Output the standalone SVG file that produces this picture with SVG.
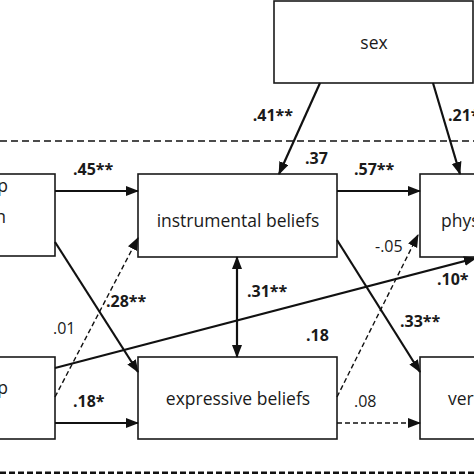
<svg xmlns="http://www.w3.org/2000/svg" width="474" height="474" viewBox="0 0 474 474">
<style>
.box{fill:#fff;stroke:#1a1a1a;stroke-width:1.6}
.t{font-family:"Open Sans","Liberation Sans",sans-serif;font-size:17.5px;fill:#1a1a1a}
.lb{font-family:"Open Sans","Liberation Sans",sans-serif;font-size:16px;font-weight:bold;fill:#1a1a1a}
.lr{font-family:"Open Sans","Liberation Sans",sans-serif;font-size:16px;fill:#1a1a1a}
.c{stroke:#111;stroke-width:2.2;fill:none}
.d{stroke:#111;stroke-width:1.4;fill:none;stroke-dasharray:5,3}
.sep{stroke:#111;stroke-width:1.6;stroke-dasharray:7,4}
.sep2{stroke:#111;stroke-width:3;stroke-dasharray:6,3}
</style>
<defs>
<marker id="ah" markerUnits="userSpaceOnUse" markerWidth="14" markerHeight="12" refX="12" refY="5" orient="auto">
<path d="M0,0 L13,5 L0,10 z" fill="#111"/>
</marker>
<marker id="ahs" markerUnits="userSpaceOnUse" markerWidth="14" markerHeight="12" refX="1" refY="5" orient="auto">
<path d="M13,0 L0,5 L13,10 z" fill="#111"/>
</marker>
</defs>
<rect width="474" height="474" fill="#fff"/>
<line class="sep" x1="0" y1="141" x2="474" y2="141"/>
<line class="sep2" x1="0" y1="473" x2="474" y2="473"/>
<g id="sex"><rect class="box" x="274" y="1" width="199" height="82"/><text class="t" x="374" y="49" text-anchor="middle">sex</text></g>
<g id="left-top"><rect class="box" x="-10" y="174" width="65" height="82"/><text class="t" x="8" y="192" text-anchor="end">p</text><text class="t" x="6" y="223" text-anchor="end">n</text></g>
<g id="left-bottom"><rect class="box" x="-10" y="357" width="65" height="82"/><text class="t" x="8" y="394" text-anchor="end">p</text></g>
<g id="instrumental"><rect class="box" x="138" y="174" width="199" height="83"/><text class="t" x="238" y="227" text-anchor="middle">instrumental beliefs</text></g>
<g id="expressive"><rect class="box" x="138" y="357" width="199" height="82"/><text class="t" x="238" y="405" text-anchor="middle">expressive beliefs</text></g>
<g id="physical"><rect class="box" x="420" y="174" width="70" height="83"/><text class="t" x="441" y="227">phys</text></g>
<g id="verbal"><rect class="box" x="420" y="357" width="70" height="82"/><text class="t" x="448" y="405">ver</text></g>
<g id="connectors">
<line class="c" x1="320" y1="83" x2="279" y2="174" marker-end="url(#ah)"/>
<line class="c" x1="433" y1="83" x2="460" y2="174" marker-end="url(#ah)"/>
<line class="c" x1="55" y1="191" x2="138" y2="191" marker-end="url(#ah)"/>
<line class="c" x1="337" y1="191" x2="420" y2="191" marker-end="url(#ah)"/>
<line class="c" x1="55" y1="423" x2="138" y2="423" marker-end="url(#ah)"/>
<line class="d" x1="337" y1="423" x2="420" y2="423" marker-end="url(#ah)"/>
<line class="c" x1="237" y1="257" x2="237" y2="357" marker-start="url(#ahs)" marker-end="url(#ah)"/>
<line class="c" x1="55" y1="242" x2="138" y2="372" marker-end="url(#ah)"/>
<line class="d" x1="55" y1="397" x2="138" y2="238" marker-end="url(#ah)"/>
<line class="c" x1="55" y1="368" x2="476" y2="258" marker-end="url(#ah)"/>
<line class="c" x1="337" y1="240" x2="420" y2="372" marker-end="url(#ah)"/>
<line class="d" x1="337" y1="397" x2="418" y2="235" marker-end="url(#ah)"/>
</g>
<g id="labels">
<text class="lb" x="293" y="121" text-anchor="end">.41**</text>
<text class="lb" x="448" y="121">.21*</text>
<text class="lb" x="305" y="164">.37</text>
<text class="lb" x="73" y="175">.45**</text>
<text class="lb" x="354" y="175">.57**</text>
<text class="lb" x="247" y="297">.31**</text>
<text class="lb" x="106" y="307">.28**</text>
<text class="lr" x="53" y="334">.01</text>
<text class="lb" x="73" y="407">.18*</text>
<text class="lb" x="306" y="341">.18</text>
<text class="lr" x="354" y="407">.08</text>
<text class="lb" x="400" y="327">.33**</text>
<text class="lr" x="375" y="252">-.05</text>
<text class="lb" x="437" y="285">.10*</text>
</g>
</svg>
